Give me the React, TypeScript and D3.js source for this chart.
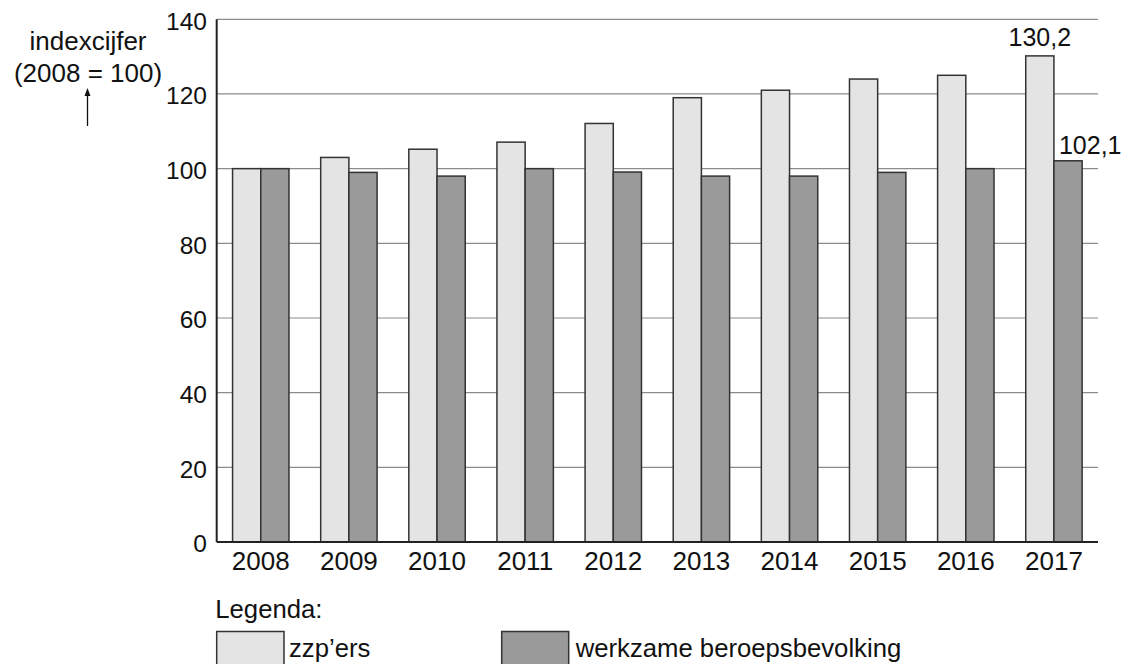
import React from 'react';
import * as d3 from 'd3';

const years = ['2008', '2009', '2010', '2011', '2012', '2013', '2014', '2015', '2016', '2017'];
const zzp = [100, 103, 105.2, 107.1, 112.1, 119, 121, 124, 125, 130.2];
const werkzaam = [100, 99, 98, 100, 99.1, 98, 98, 99, 100, 102.1];
const yTicks = [0, 20, 40, 60, 80, 100, 120, 140];
const seriesNames = ['zzp’ers', 'werkzame beroepsbevolking'];

const WIDTH = 1132;
const HEIGHT = 664;
const LEFT = 216.7;
const RIGHT = 1098;
const TOP = 19.3;
const BOTTOM = 542;

const FONT = '"Liberation Sans", Arial, Helvetica, sans-serif';
const LIGHT = '#e4e4e4';
const DARK = '#9a9a9a';

function App() {
  const x0 = d3.scaleBand().domain(years).range([LEFT, RIGHT]).paddingInner(0.36).paddingOuter(0.18);
  const x1 = d3.scaleBand().domain(['zzp', 'werk']).range([0, x0.bandwidth()]);
  const y = d3.scaleLinear().domain([0, 140]).range([BOTTOM, TOP]);

  const last = years[years.length - 1];
  const lastZzp = zzp[zzp.length - 1];
  const lastWerk = werkzaam[werkzaam.length - 1];

  return (
    <div style={{ position: 'absolute', left: 0, top: 0 }}>
      <svg width={WIDTH} height={HEIGHT} style={{ display: 'block' }} fontFamily={FONT}>
        <rect width={WIDTH} height={HEIGHT} fill="#fff" />

        {/* gridlines */}
        {yTicks.filter(t => t > 0).map(t => (
          <line key={t} x1={LEFT} x2={RIGHT} y1={y(t)} y2={y(t)} stroke="#8c8c8c" strokeWidth={1.2} />
        ))}

        {/* bars */}
        {years.map((yr, i) => (
          <g key={yr} transform={`translate(${x0(yr)},0)`}>
            <rect x={x1('zzp')} y={y(zzp[i])} width={x1.bandwidth()} height={y(0) - y(zzp[i])}
              fill={LIGHT} stroke="#333" strokeWidth={1.5} />
            <rect x={x1('werk')} y={y(werkzaam[i])} width={x1.bandwidth()} height={y(0) - y(werkzaam[i])}
              fill={DARK} stroke="#333" strokeWidth={1.5} />
          </g>
        ))}

        {/* axes */}
        <line x1={LEFT} x2={LEFT} y1={TOP} y2={BOTTOM} stroke="#222" strokeWidth={2} />
        <line x1={LEFT} x2={RIGHT} y1={BOTTOM} y2={BOTTOM} stroke="#222" strokeWidth={2} />

        {yTicks.map(t => (
          <text key={t} x={207} y={y(t) + 10.3} textAnchor="end" fontSize={24.5} fill="#111">{t}</text>
        ))}
        {years.map(yr => (
          <text key={yr} x={(x0(yr) as number) + x0.bandwidth() / 2} y={570} textAnchor="middle" fontSize={26} fill="#111">{yr}</text>
        ))}

        {/* value labels on last year */}
        <text x={(x0(last) as number) + (x1('zzp') as number) + x1.bandwidth() / 2} y={y(lastZzp) - 10}
          textAnchor="middle" fontSize={25} fill="#111">{String(lastZzp).replace('.', ',')}</text>
        <text x={(x0(last) as number) + (x1('werk') as number) + 5} y={y(lastWerk) - 7}
          textAnchor="start" fontSize={25} fill="#111">{String(lastWerk).replace('.', ',')}</text>

        {/* axis title */}
        <text x={88} y={50} textAnchor="middle" fontSize={26} fill="#111">indexcijfer</text>
        <text x={88} y={81.5} textAnchor="middle" fontSize={26} fill="#111">(2008 = 100)</text>
        <line x1={87.5} x2={87.5} y1={126} y2={95} stroke="#111" strokeWidth={1.3} />
        <path d="M84.5,96 L87.5,88 L90.5,96 Z" fill="#111" />

        {/* legend */}
        <text x={215.3} y={618.3} fontSize={25.7} fill="#111">Legenda:</text>
        <rect x={216.7} y={631.5} width={67.3} height={36} fill={LIGHT} stroke="#333" strokeWidth={1.5} />
        <text x={289} y={656.5} fontSize={25.7} fill="#111">{seriesNames[0]}</text>
        <rect x={501.7} y={631.5} width={67} height={36} fill={DARK} stroke="#333" strokeWidth={1.5} />
        <text x={575.7} y={656.5} fontSize={25.7} fill="#111">{seriesNames[1]}</text>
      </svg>
    </div>
  );
}

export default App;
